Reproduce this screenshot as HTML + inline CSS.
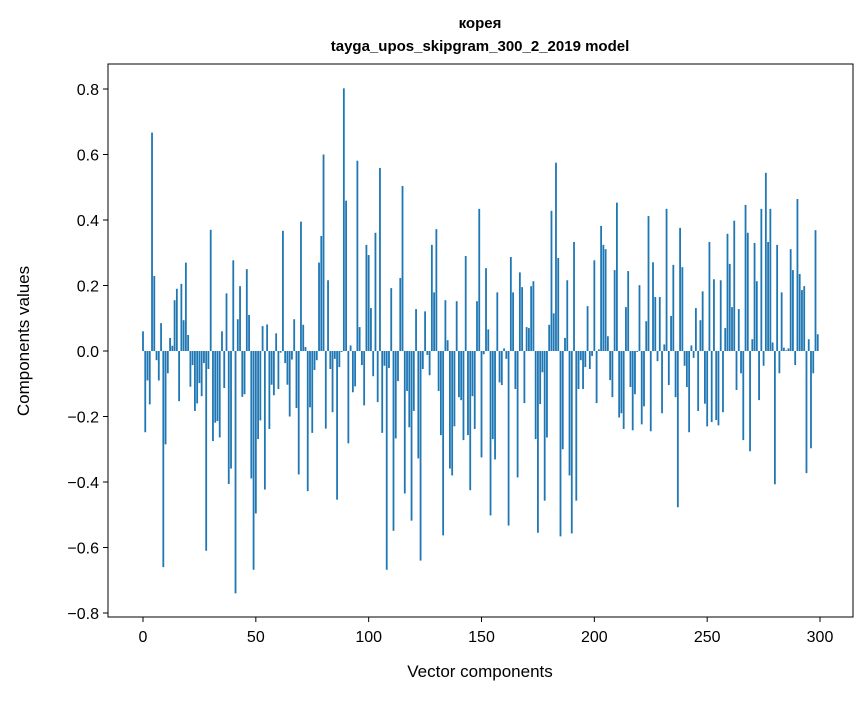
<!DOCTYPE html>
<html><head><meta charset="utf-8"><style>
body{margin:0;background:#fff;}
svg text{font-family:"Liberation Sans","DejaVu Sans",sans-serif;fill:#000;}
</style></head><body>
<svg id="chart" width="867" height="696" xmlns="http://www.w3.org/2000/svg">
<text x="480" y="28" text-anchor="middle" font-size="15" font-weight="bold">корея</text>
<text x="480" y="51" text-anchor="middle" font-size="15" font-weight="bold">tayga_upos_skipgram_300_2_2019 model</text>
<g id="bars"></g>
<rect x="108" y="64" width="745" height="553" fill="none" stroke="#000" stroke-width="1"/>
<g id="xticks"></g>
<g id="yticks"></g>
<text x="480" y="677" text-anchor="middle" font-size="17">Vector components</text>
<text transform="translate(29,341) rotate(-90)" text-anchor="middle" font-size="17">Components values</text>
</svg>
<script>
const values = [0.06,-0.248,-0.09,-0.163,0.667,0.229,-0.028,-0.09,0.085,-0.66,-0.285,-0.068,0.04,0.016,0.155,0.19,-0.153,0.205,0.094,0.27,0.049,-0.109,-0.043,-0.183,-0.16,-0.098,-0.138,-0.037,-0.61,-0.055,0.37,-0.275,-0.219,-0.214,-0.264,0.06,-0.113,0.176,-0.406,-0.359,0.277,-0.74,0.097,0.198,-0.14,-0.132,0.25,0.11,-0.389,-0.668,-0.496,-0.269,-0.212,0.076,-0.423,0.081,-0.238,-0.103,-0.135,0.054,-0.116,-0.005,0.367,-0.037,-0.103,-0.2,-0.026,0.097,-0.174,-0.377,0.395,0.08,0.012,-0.428,-0.172,-0.25,
-0.058,-0.028,0.27,0.351,0.6,-0.237,0.216,-0.055,-0.187,-0.024,-0.454,-0.049,-0.003,0.802,0.459,-0.282,0.017,-0.126,-0.108,0.581,0.073,-0.043,-0.166,0.324,0.293,0.131,-0.077,0.361,-0.156,0.559,-0.25,-0.045,-0.668,-0.052,0.192,-0.549,-0.267,-0.092,0.223,0.504,-0.435,-0.122,-0.233,-0.518,-0.183,0.128,-0.328,-0.64,-0.055,0.121,-0.012,-0.074,0.324,0.179,0.372,-0.122,-0.257,-0.563,0.155,0.033,-0.359,-0.38,-0.23,0.152,-0.141,-0.15,-0.272,0.29,-0.257,-0.425,-0.138,-0.238,0.152,0.434,-0.325,
-0.01,0.253,0.066,-0.502,-0.269,-0.331,0.179,-0.096,-0.104,0.008,-0.024,-0.533,0.287,0.179,-0.116,-0.386,0.24,0.195,-0.159,0.073,0.07,0.198,0.213,-0.269,-0.555,-0.162,-0.065,-0.457,-0.264,0.08,0.428,0.115,0.575,0.284,-0.566,-0.3,0.04,0.216,-0.38,-0.557,0.333,-0.457,-0.116,-0.028,-0.116,-0.049,0.137,-0.055,-0.015,0.277,-0.159,0.005,0.382,0.324,0.311,0.045,-0.089,-0.141,0.247,0.453,-0.203,-0.19,-0.238,0.134,0.244,-0.11,-0.242,-0.132,-0.003,0.201,-0.224,-0.169,0.091,0.412,
-0.245,0.271,0.165,-0.031,0.165,-0.19,0.02,0.434,-0.104,0.107,0.263,-0.141,-0.477,0.376,0.256,-0.045,-0.11,-0.248,0.017,-0.021,0.131,-0.183,0.094,0.182,-0.161,-0.23,0.333,-0.217,0.219,-0.211,-0.227,0.216,-0.187,0.07,0.358,0.266,0.134,0.398,-0.119,0.128,-0.068,-0.272,0.446,0.361,-0.306,0.036,0.33,0.213,-0.15,0.434,-0.045,0.544,0.333,0.434,0.026,-0.407,0.324,-0.068,0.179,0.01,0.002,0.008,0.311,0.247,-0.043,0.464,0.235,0.186,0.198,-0.373,0.036,-0.297,-0.068,0.369,0.051];
const xTicks = [0,50,100,150,200,250,300];
const yTicks = [-0.8,-0.6,-0.4,-0.2,0.0,0.2,0.4,0.6,0.8];
const NS="http://www.w3.org/2000/svg";
function xs(v){return 143+(v)*2.2567;}
function ys(v){return 351-v*327.5;}
const bars=document.getElementById('bars');
values.forEach((v,i)=>{
  const r=document.createElementNS(NS,'rect');
  const x0=xs(i-0.4), x1=xs(i+0.4);
  r.setAttribute('x',x0);r.setAttribute('width',x1-x0);
  r.setAttribute('y',Math.min(ys(v),ys(0)));r.setAttribute('height',Math.abs(ys(v)-ys(0)));
  r.setAttribute('fill','#1f77b4');
  
  
  bars.appendChild(r);
});
const xg=document.getElementById('xticks');
xTicks.forEach(t=>{
  const l=document.createElementNS(NS,'line');
  l.setAttribute('x1',xs(t));l.setAttribute('x2',xs(t));l.setAttribute('y1',617);l.setAttribute('y2',622);l.setAttribute('stroke','#000');
  
  
  xg.appendChild(l);
  const tx=document.createElementNS(NS,'text');
  tx.setAttribute('x',xs(t));tx.setAttribute('y',642);tx.setAttribute('text-anchor','middle');tx.setAttribute('font-size','16');
  tx.textContent=t;
  
  
  xg.appendChild(tx);
});
const yg=document.getElementById('yticks');
yTicks.forEach(t=>{
  const l=document.createElementNS(NS,'line');
  l.setAttribute('x1',103);l.setAttribute('x2',108);l.setAttribute('y1',ys(t));l.setAttribute('y2',ys(t));l.setAttribute('stroke','#000');
  
  
  yg.appendChild(l);
  const tx=document.createElementNS(NS,'text');
  tx.setAttribute('x',99);tx.setAttribute('y',ys(t)+6);tx.setAttribute('text-anchor','end');tx.setAttribute('font-size','16');
  tx.textContent=(t<0?'\u2212':'')+Math.abs(t).toFixed(1);
  
  
  yg.appendChild(tx);
});
</script>
</body></html>
